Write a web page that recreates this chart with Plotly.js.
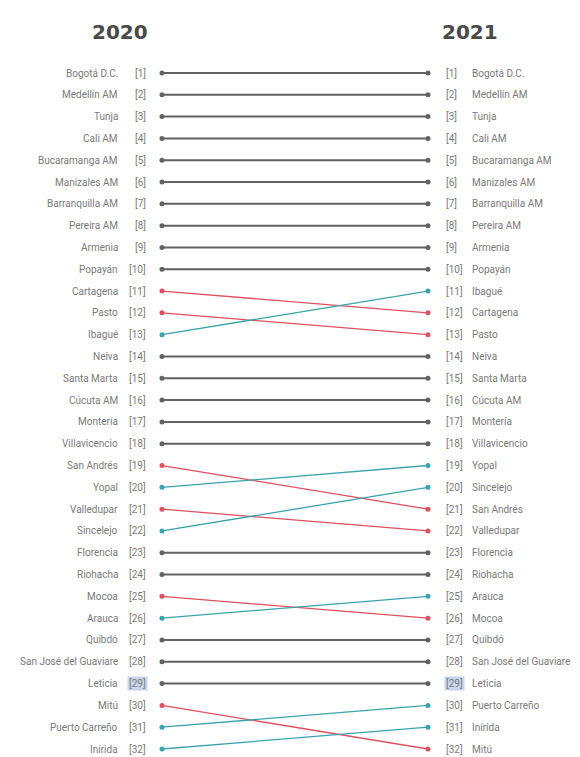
<!DOCTYPE html>
<html>
<head>
<meta charset="utf-8">
<script src="https://cdn.plot.ly/plotly-3.0.1.min.js"></script>
<style>html,body{margin:0;padding:0;background:#fff;}#chart{width:580px;height:757px;}</style>
</head>
<body>
<div id="chart"></div>
<script>
const years = ["2020", "2021"];
const names2020 = ["Bogotá D.C.", "Medellín AM", "Tunja", "Cali AM", "Bucaramanga AM", "Manizales AM", "Barranquilla AM", "Pereira AM", "Armenia", "Popayán", "Cartagena", "Pasto", "Ibagué", "Neiva", "Santa Marta", "Cúcuta AM", "Montería", "Villavicencio", "San Andrés", "Yopal", "Valledupar", "Sincelejo", "Florencia", "Riohacha", "Mocoa", "Arauca", "Quibdó", "San José del Guaviare", "Leticia", "Mitú", "Puerto Carreño", "Inírida"];
const names2021 = ["Bogotá D.C.", "Medellín AM", "Tunja", "Cali AM", "Bucaramanga AM", "Manizales AM", "Barranquilla AM", "Pereira AM", "Armenia", "Popayán", "Ibagué", "Cartagena", "Pasto", "Neiva", "Santa Marta", "Cúcuta AM", "Montería", "Villavicencio", "Yopal", "Sincelejo", "San Andrés", "Valledupar", "Florencia", "Riohacha", "Arauca", "Mocoa", "Quibdó", "San José del Guaviare", "Leticia", "Puerto Carreño", "Inírida", "Mitú"];
const highlight = "Leticia";

const colUp = "#3aa3ad", colDown = "#e0505e", colSame = "#626262";
const traces = [];
const annotations = [];
const labelFont = {family: "Roboto, 'DejaVu Sans', sans-serif", size: 10, color: "#7a7a7a"};

names2020.forEach((name, i) => {
  const r0 = i + 1;
  const r1 = names2021.indexOf(name) + 1;
  const c = r1 < r0 ? colUp : (r1 > r0 ? colDown : colSame);
  traces.push({
    x: [0, 1], y: [r0, r1], mode: "lines+markers", type: "scatter",
    line: {color: c, width: r1 === r0 ? 2 : 1.3},
    marker: {color: c, size: 5}, hoverinfo: "skip", showlegend: false
  });
});

names2020.forEach((name, i) => {
  const r = i + 1;
  const hl = name === highlight;
  annotations.push({x: 0, y: r, xref: "x", yref: "y", text: name, showarrow: false, xanchor: "right", xshift: -42, font: labelFont});
  annotations.push({x: 0, y: r, xref: "x", yref: "y", text: "[" + r + "]", showarrow: false, xanchor: "right", xshift: -14, font: labelFont, bgcolor: hl ? "#c9d5ec" : "rgba(0,0,0,0)"});
});
names2021.forEach((name, i) => {
  const r = i + 1;
  const hl = name === highlight;
  annotations.push({x: 1, y: r, xref: "x", yref: "y", text: "[" + r + "]", showarrow: false, xanchor: "left", xshift: 16, font: labelFont, bgcolor: hl ? "#c9d5ec" : "rgba(0,0,0,0)"});
  annotations.push({x: 1, y: r, xref: "x", yref: "y", text: name, showarrow: false, xanchor: "left", xshift: 42, font: labelFont});
});
const titleFont = {family: "'DejaVu Sans', sans-serif", size: 20, color: "#4a4a4a", weight: "bold"};
annotations.push({x: 0, y: -0.88, xref: "x", yref: "y", text: "<b>" + years[0] + "</b>", showarrow: false, xanchor: "center", xshift: -42, font: titleFont});
annotations.push({x: 1, y: -0.88, xref: "x", yref: "y", text: "<b>" + years[1] + "</b>", showarrow: false, xanchor: "center", xshift: 42, font: titleFont});

const layout = {
  width: 580, height: 757,
  margin: {l: 0, r: 0, t: 0, b: 0},
  paper_bgcolor: "#fff", plot_bgcolor: "#fff",
  xaxis: {range: [-0.609, 1.5715], visible: false, fixedrange: true},
  yaxis: {range: [32.367, -2.348], visible: false, fixedrange: true},
  annotations: annotations,
  showlegend: false
};
Plotly.newPlot("chart", traces, layout, {displayModeBar: false, staticPlot: true});
</script>
</body>
</html>
